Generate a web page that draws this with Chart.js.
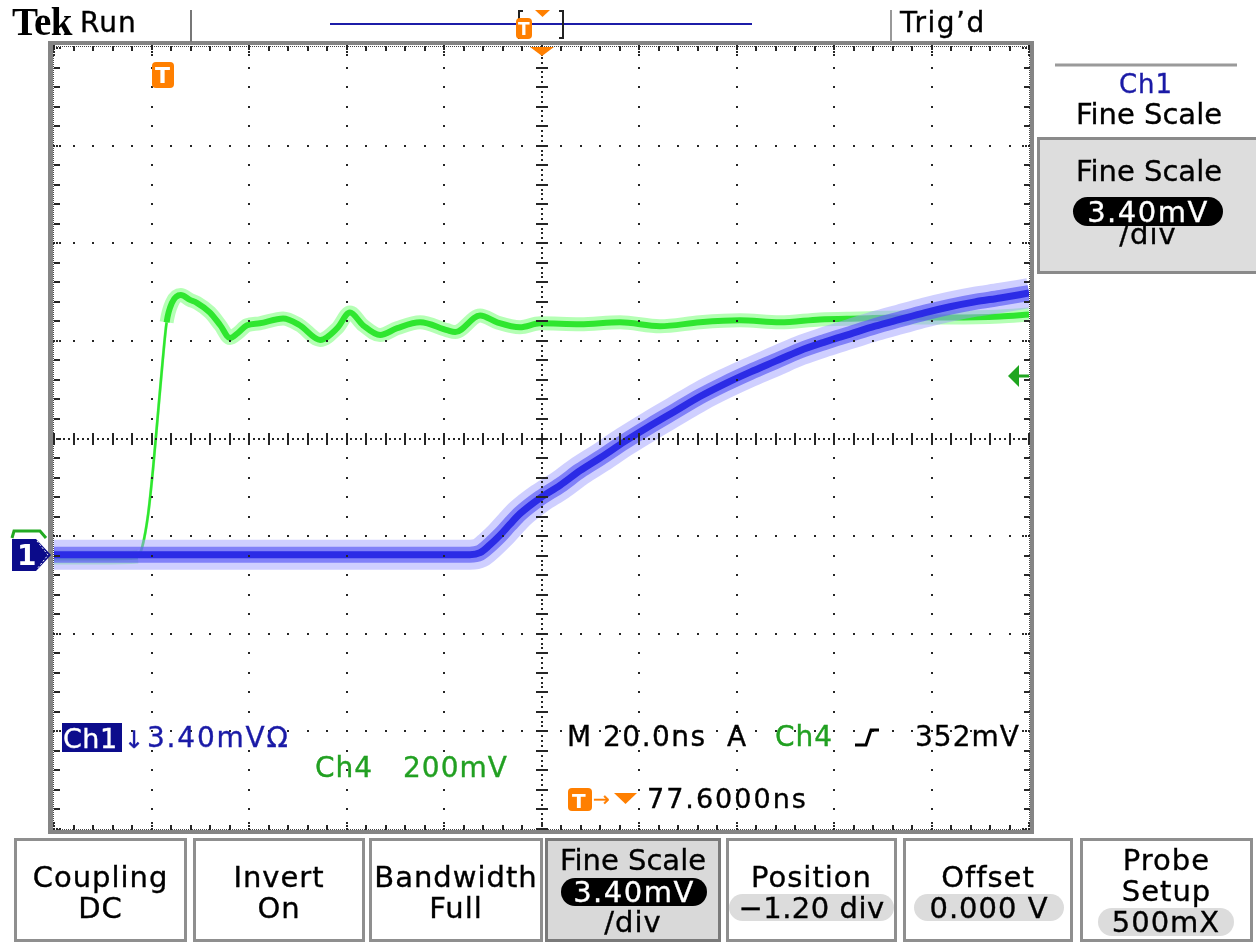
<!DOCTYPE html>
<html><head><meta charset="utf-8">
<script src="https://cdn.jsdelivr.net/npm/chart.js@4/dist/chart.umd.min.js"></script>
<style>
html,body{margin:0;padding:0;background:#fff;}
#wrap{position:relative;width:1256px;height:943px;overflow:hidden;background:#fff;font-family:"DejaVu Sans",sans-serif;}
#c{position:absolute;left:0;top:0;}
.t{position:absolute;white-space:nowrap;line-height:1;z-index:5;-webkit-text-stroke:0.35px currentColor;}
.box{position:absolute;box-sizing:border-box;border:3px solid #8f8f8f;background:#fff;}
.pill{position:absolute;display:flex;align-items:center;justify-content:center;white-space:nowrap;line-height:1;z-index:5;box-sizing:border-box;-webkit-text-stroke:0.35px currentColor;}
#shapes{position:absolute;left:0;top:0;z-index:4;pointer-events:none;}
</style></head>
<body><div id="wrap"><canvas id="c" width="1256" height="943"></canvas>
<svg id="shapes" width="1256" height="943" xmlns="http://www.w3.org/2000/svg">
  <!-- header -->
  <line x1="191" y1="10" x2="191" y2="42" stroke="#777" stroke-width="2"/>
  <line x1="891" y1="10" x2="891" y2="42" stroke="#999" stroke-width="2"/>
  <line x1="330" y1="24" x2="752" y2="24" stroke="#1c1ca8" stroke-width="2"/>
  <path d="M523,11 L519,11 L519,38 L523,38" fill="none" stroke="#222" stroke-width="2"/>
  <path d="M559,11 L563,11 L563,38 L559,38" fill="none" stroke="#222" stroke-width="2"/>
  <rect x="516" y="18" width="16" height="21" rx="4" fill="#ff7f00"/>
  <polygon points="535,10 550,10 542.5,17" fill="#ff7f00"/>
  <!-- plot markers -->
  <polygon points="530,47 554,47 542,56" fill="#ff7f00"/>
  <rect x="152" y="62" width="22" height="26" rx="4" fill="#ff7f00"/>
  <path d="M12,538 L14,531 L40,531 L46,538" fill="none" stroke="#22aa22" stroke-width="3"/>
  <polygon points="12,539 36,539 51,555 36,571 12,571" fill="#0b0b8a"/>
  <polyline points="37,541 48,555 37,569" fill="none" stroke="#fff" stroke-width="1" stroke-dasharray="2,2"/>
  <polygon points="1008,376 1019,365 1019,387" fill="#1fa51f"/>
  <rect x="1018" y="374.5" width="11" height="3" fill="#1fa51f"/>
  <!-- readout symbols -->
  <rect x="62" y="723" width="60" height="29" fill="#0c0c8c"/>
  <path d="M855,745 L866,745 L871,730 L879,730" fill="none" stroke="#000" stroke-width="3"/>
  <rect x="568" y="788" width="24" height="23" rx="4" fill="#ff7f00"/>
  <polygon points="614,793 637,793 625.5,804" fill="#ff7f00"/>
  <!-- right panel -->
  <line x1="1055" y1="65" x2="1237" y2="65" stroke="#9a9a9a" stroke-width="3"/>
</svg>
</div>
<script>
// ---------------- DATA ----------------
// Horizontal: time in ns relative to screen centre (M 20.0 ns/div, 10 div wide)
// Vertical: trace position in graticule divisions (8 div tall, 0 = centre line)
const ch1Time = [-100,-70,-39,-14.7,-12.6,-10.6,-8.5,-6.5,-4.4,-0.3,3.8,7.9,12.0,17.1,22.3,27.4,32.5,37.6,42.8,47.9,53.0,58.2,63.3,68.4,73.5,78.7,83.8,88.9,94.1,100];
const ch1Div  = [-1.19,-1.19,-1.19,-1.19,-1.17,-1.09,-0.99,-0.88,-0.77,-0.61,-0.48,-0.33,-0.20,-0.03,0.13,0.28,0.43,0.56,0.68,0.79,0.90,0.99,1.07,1.15,1.22,1.29,1.35,1.40,1.44,1.49];
const ch4Time = [-100,-90.6,-82.8,-81.8,-80.7,-79.7,-78.7,-77.7,-76.9,-75.8,-74.0,-72.1,-70.7,-68.0,-65.9,-63.9,-62.3,-60.4,-57.8,-53.0,-49.6,-45.4,-41.9,-39.3,-36.6,-33.1,-29.6,-24.9,-19.4,-17.7,-12.6,-9.1,-4.4,-0.3,7.9,16.1,24.3,32.5,40.7,48.9,57.1,65.3,73.5,83.8,94.1,100];
const ch4Div  = [-1.22,-1.22,-1.21,-1.09,-0.78,-0.32,0.24,0.80,1.19,1.39,1.47,1.42,1.39,1.29,1.16,1.03,1.08,1.16,1.18,1.23,1.16,1.01,1.13,1.29,1.16,1.06,1.13,1.19,1.11,1.09,1.26,1.19,1.14,1.18,1.17,1.19,1.15,1.19,1.21,1.19,1.22,1.23,1.24,1.24,1.25,1.27];
const ch4RiseFirst = 2, ch4RiseLast = 7;   // fast edge segments (drawn thin)
const timeRange = [-100, 100];
const divRange = [-4, 4];
const menuTop = ["Coupling","Invert","Bandwidth","Fine Scale","Position","Offset","Probe"];
const menuBottom = ["DC","On","Full","3.40mV","\u22121.20 div","0.000 V","500mX"];

// ---------------- chart ----------------
const pts = (xs, ys) => xs.map((x, i) => ({x, y: ys[i]}));
const ch1 = pts(ch1Time, ch1Div), ch4 = pts(ch4Time, ch4Div);
const thin = w => ({ borderWidth: c => (c.p0DataIndex >= ch4RiseFirst && c.p0DataIndex <= ch4RiseLast) ? w : undefined });
const common = {pointRadius:0, fill:false, cubicInterpolationMode:'monotone', borderJoinStyle:'round', clip:0};

const graticule = {
  id: 'graticule',
  afterDatasetsDraw(chart) {
    const {ctx, chartArea: a} = chart;
    const L = a.left, R = a.right, T = a.top, B = a.bottom;
    const dx = (R - L) / 10, dy = (B - T) / 8;
    ctx.save();
    // frame
    ctx.fillStyle = '#858585';
    ctx.fillRect(L - 6, T - 7, R - L + 11, 4);
    ctx.fillRect(L - 6, B + 1, R - L + 11, 4);
    ctx.fillRect(L - 6, T - 7, 5, B - T + 12);
    ctx.fillRect(R + 1, T - 7, 4, B - T + 12);
    ctx.fillStyle = '#444';
    for (let x = L; x <= R; x += 2) { ctx.fillRect(x, T - 2, 1, 1); ctx.fillRect(x, B, 1, 1); }
    for (let y = T; y <= B; y += 2) { ctx.fillRect(L - 1, y, 1, 1); ctx.fillRect(R, y, 1, 1); }
    const dot = (x, y) => ctx.fillRect(Math.round(x) - 1, Math.round(y) - 1, 2, 2);
    ctx.fillStyle = '#262626';
    // frame ticks
    for (let k = 0; k <= 50; k++) {
      const x = L + k * dx / 5;
      if (k % 5 === 0) { for (let y = T - 2; y <= T + 8; y += 3) dot(x, y); for (let y = B; y >= B - 8; y -= 3) dot(x, y); }
      else { ctx.fillRect(Math.round(x) - 1, T - 2, 2, 5); ctx.fillRect(Math.round(x) - 1, B - 4, 2, 5); }
    }
    for (let k = 0; k <= 40; k++) {
      const y = T + k * dy / 5;
      if (k % 5 === 0) { for (let x = L; x <= L + 8; x += 3) dot(x, y); for (let x = R; x >= R - 8; x -= 3) dot(x, y); }
      else { ctx.fillRect(L, Math.round(y) - 1, 6, 2); ctx.fillRect(R - 5, Math.round(y) - 1, 6, 2); }
    }
    // major lines (dots every 0.2 div)
    for (let i = 1; i < 10; i++) { if (i === 5) continue; const x = L + i * dx; for (let k = 0; k <= 40; k++) dot(x, T + k * dy / 5); }
    for (let j = 1; j < 8; j++) { if (j === 4) continue; const y = T + j * dy; for (let k = 0; k <= 50; k++) dot(L + k * dx / 5, y); }
    // centre cross
    const cx = L + 5 * dx, cy = T + 4 * dy;
    for (let k = 0; k <= 160; k++) dot(cx, T + k * dy / 20);
    for (let k = 0; k <= 200; k++) dot(L + k * dx / 20, cy);
    for (let k = 0; k <= 40; k++) ctx.fillRect(Math.round(cx) - 6, Math.round(T + k * dy / 5) - 1, 12, 2);
    for (let k = 0; k <= 50; k++) ctx.fillRect(Math.round(L + k * dx / 5) - 1, Math.round(cy) - 6, 2, 12);
    ctx.restore();
  }
};

new Chart(document.getElementById('c'), {
  type: 'line',
  data: { datasets: [
    Object.assign({label:'Ch1 core', data: ch1, borderColor:'#2b2be6', borderWidth:7, order:0}, common),
    Object.assign({label:'Ch1 mid', data: ch1, borderColor:'rgba(95,95,245,0.7)', borderWidth:16, order:1}, common),
    Object.assign({label:'Ch1 noise', data: ch1, borderColor:'rgba(160,160,255,0.5)', borderWidth:30, order:2}, common),
    Object.assign({label:'Ch4 core', data: ch4, borderColor:'#2fe62f', borderWidth:6, order:3, segment: thin(2.5)}, common),
    Object.assign({label:'Ch4 noise', data: ch4, borderColor:'rgba(120,255,120,0.55)', borderWidth:14, order:4, segment: thin(3)}, common)
  ]},
  options: {
    responsive:false, animation:false, devicePixelRatio:1,
    layout:{padding:{left:54, right:227, top:48, bottom:114}},
    scales:{
      x:{type:'linear', min:timeRange[0], max:timeRange[1], display:false},
      y:{type:'linear', min:divRange[0], max:divRange[1], display:false}
    },
    plugins:{legend:{display:false}, tooltip:{enabled:false}}
  },
  plugins:[graticule]
});

// ---------------- text overlay ----------------
const wrap = document.getElementById('wrap');
function T(s, x, base, o) {
  o = o || {};
  const fs = o.size || 28;
  const d = document.createElement('div');
  d.className = 't'; d.textContent = s;
  d.style.fontSize = fs + 'px';
  d.style.color = o.color || '#000';
  if (o.family) d.style.fontFamily = o.family;
  if (o.weight) d.style.fontWeight = o.weight;
  if (o.nostroke) d.style.webkitTextStroke = '0px';
  d.style.letterSpacing = (o.ls != null ? o.ls : 1) + 'px';
  d.style.top = (base - (o.asc || 0.846) * fs) + 'px';
  if (o.align === 'center') { d.style.left = (x - 300) + 'px'; d.style.width = '600px'; d.style.textAlign = 'center'; }
  else d.style.left = x + 'px';
  wrap.appendChild(d); return d;
}
function box(x, y, w, h, bg, border) {
  const d = document.createElement('div'); d.className = 'box';
  Object.assign(d.style, {left:x+'px', top:y+'px', width:w+'px', height:h+'px', background:bg||'#fff'});
  if (border) d.style.borderColor = border;
  wrap.appendChild(d); return d;
}
function pill(s, x, y, w, h, bg, fg, fs, ls) {
  const d = document.createElement('div'); d.className = 'pill'; d.textContent = s;
  Object.assign(d.style, {left:x+'px', top:y+'px', width:w+'px', height:h+'px', background:bg, color:fg,
    borderRadius:(h/2)+'px', fontSize:fs+'px', letterSpacing:(ls!=null?ls:1)+'px', paddingTop:'1px'});
  wrap.appendChild(d); return d;
}

// header
T('Tek', 12, 35, {size:39, family:'"Liberation Serif", serif', weight:'bold', ls:-0.5, asc:0.8375, nostroke:true});
T('Run', 80, 33, {size:28, ls:1});
T('Trig\u2019d', 900, 33, {size:28, ls:1.5});
T('T', 518, 35, {size:17, weight:'bold', color:'#fff', ls:0, nostroke:true});

// plot readouts
T('T', 155, 84, {size:22, weight:'bold', color:'#fff', ls:0, nostroke:true});
T('1', 17, 566, {size:28, weight:'bold', color:'#fff', ls:0, nostroke:true});
T('Ch1', 63, 748, {size:27, color:'#fff', ls:0.5});
T('\u2193', 124, 748, {size:24, color:'#1a1aa6', ls:0});
T('3.40mV\u03A9', 147, 748, {size:28, color:'#1a1aa6', ls:1.8});
T('Ch4', 315, 778, {size:28, color:'#22a022', ls:1});
T('200mV', 403, 778, {size:28, color:'#22a022', ls:1});
T('M', 567, 747, {size:28, ls:1});
T('20.0ns', 603, 747, {size:28, ls:1.5});
T('A', 727, 747, {size:28, ls:1});
T('Ch4', 775, 747, {size:28, color:'#22a022', ls:1});
T('352mV', 915, 747, {size:28, ls:1});
T('T', 572, 808, {size:20, weight:'bold', color:'#fff', ls:0, nostroke:true});
T('\u2192', 593, 806, {size:20, color:'#ff7f00', ls:0});
T('77.6000ns', 647, 808, {size:27, ls:2});

// right side panel
T('Ch1', 1146, 93, {size:26, color:'#1a1aa6', align:'center', ls:1});
T('Fine Scale', 1149, 125, {size:29, align:'center', ls:0});
box(1037, 137, 230, 137, '#dddddd', '#8a8a8a');
T('Fine Scale', 1149, 182, {size:29, align:'center', ls:0});
pill('3.40mV', 1073, 197, 150, 29, '#000', '#fff', 29, 1.5);
T('/div', 1148, 245, {size:29, align:'center', ls:1});

// bottom menu
const menuX = [14,193,369,545,726,903,1080];
const menuW = [173,172,174,176,171,170,173];
menuX.forEach((x, i) => box(x, 838, menuW[i], 104, i === 3 ? '#d9d9d9' : '#fff', i === 3 ? '#7a7a7a' : '#8f8f8f'));
const mc = i => menuX[i] + menuW[i] / 2;
[0,1,2].forEach(i => { T(menuTop[i], mc(i), 888, {size:29, align:'center', ls:1}); T(menuBottom[i], mc(i), 919, {size:29, align:'center', ls:1}); });
T(menuTop[3], mc(3), 871, {size:29, align:'center', ls:0});
pill(menuBottom[3], 561, 878, 146, 28, '#000', '#fff', 29, 1.5);
T('/div', mc(3), 933, {size:29, align:'center', ls:1});
T(menuTop[4], mc(4), 888, {size:29, align:'center', ls:1});
pill(menuBottom[4], 729, 894, 165, 27, '#dcdcdc', '#000', 29, 0.5);
T(menuTop[5], mc(5), 888, {size:29, align:'center', ls:1});
pill(menuBottom[5], 914, 894, 150, 27, '#dcdcdc', '#000', 29, 1);
T(menuTop[6], mc(6), 871, {size:29, align:'center', ls:1});
T('Setup', mc(6), 902, {size:29, align:'center', ls:1});
pill(menuBottom[6], 1098, 908, 136, 28, '#dcdcdc', '#000', 29, 1);
</script>
</body></html>
